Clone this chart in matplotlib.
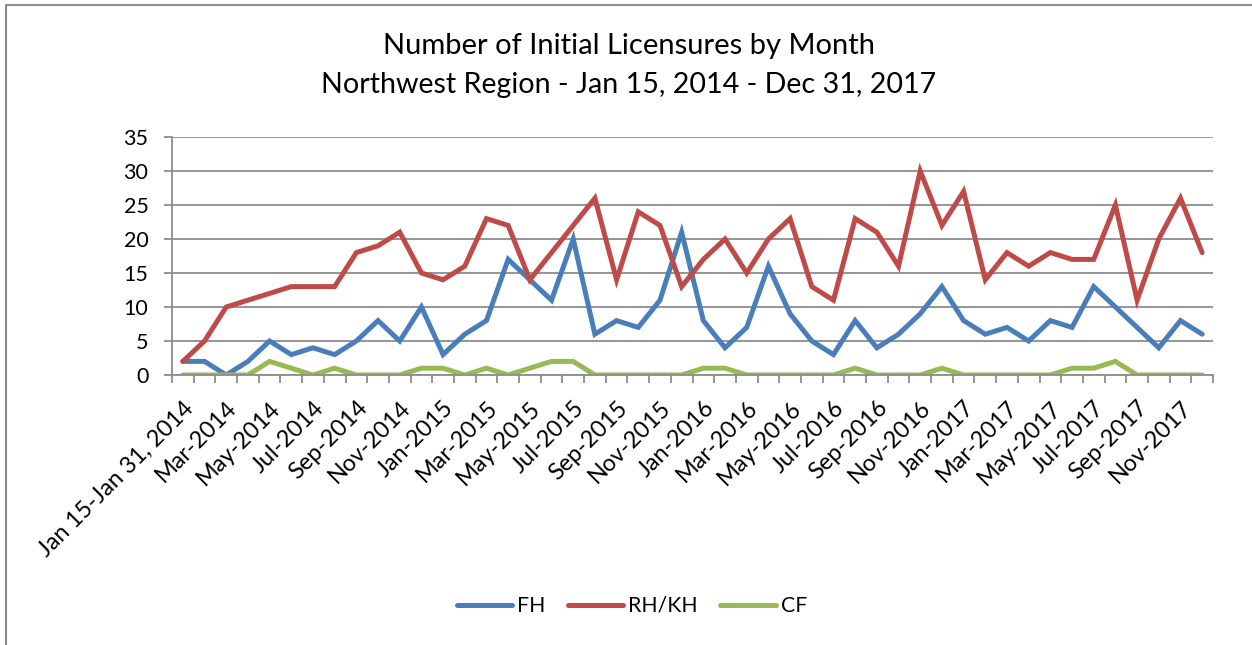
import numpy as np
import matplotlib.pyplot as plt
from matplotlib.lines import Line2D

plt.rcParams['font.family'] = ['Lato', 'DejaVu Sans']

#%% data
months = ['Jan 15-Jan 31, 2014']
for yr in range(2014, 2018):
    for m in ['Jan', 'Feb', 'Mar', 'Apr', 'May', 'Jun', 'Jul', 'Aug', 'Sep', 'Oct', 'Nov', 'Dec']:
        if yr == 2014 and m == 'Jan':
            continue
        months.append('{}-{}'.format(m, yr))

fh = [2, 2, 0, 2, 5, 3, 4, 3, 5, 8, 5, 10,
      3, 6, 8, 17, 14, 11, 20, 6, 8, 7, 11, 21,
      8, 4, 7, 16, 9, 5, 3, 8, 4, 6, 9, 13,
      8, 6, 7, 5, 8, 7, 13, 10, 7, 4, 8, 6]
rhkh = [2, 5, 10, 11, 12, 13, 13, 13, 18, 19, 21, 15,
        14, 16, 23, 22, 14, 18, 22, 26, 14, 24, 22, 13,
        17, 20, 15, 20, 23, 13, 11, 23, 21, 16, 30, 22,
        27, 14, 18, 16, 18, 17, 17, 25, 11, 20, 26, 18]
cf = [0, 0, 0, 0, 2, 1, 0, 1, 0, 0, 0, 1,
      1, 0, 1, 0, 1, 2, 2, 0, 0, 0, 0, 0,
      1, 1, 0, 0, 0, 0, 0, 1, 0, 0, 0, 1,
      0, 0, 0, 0, 0, 1, 1, 2, 0, 0, 0, 0]

#%% plot
fig = plt.figure(figsize=(12.52, 6.45), dpi=100)
ax = fig.add_axes([172/1252, 1-375/645, (1213-172)/1252, (375-137)/645])

x = np.arange(len(months))
ax.plot(x, fh, color='#4A7EBB', lw=3.6, label='FH', solid_capstyle='round', solid_joinstyle='miter')
ax.plot(x, rhkh, color='#BE4B48', lw=3.6, label='RH/KH', solid_capstyle='round', solid_joinstyle='miter')
ax.plot(x, cf, color='#98B954', lw=3.6, label='CF', solid_capstyle='round', solid_joinstyle='miter')

ax.set_xlim(-0.5, len(months)-0.5)
ax.set_ylim(0, 35)
ax.set_yticks(range(0, 36, 5))
ax.yaxis.grid(True, color='#8C8C8C', lw=1.3)
ax.set_axisbelow(True)

# category ticks between months, labels on every other month
ax.set_xticks(np.arange(-0.5, len(months), 1))
ax.set_xticklabels([])
ax.set_xticks(x[::2], minor=True)
ax.set_xticklabels(months[::2], minor=True, rotation=45, ha='right', va='top',
                   rotation_mode='anchor', fontsize=16.8)
ax.tick_params(axis='x', which='minor', length=0, pad=16)
ax.tick_params(axis='x', which='major', length=6, width=1.3, color='#8C8C8C', direction='out')
ax.tick_params(axis='y', length=6, width=1.3, color='#8C8C8C', labelsize=15.5, pad=11)
for s in ['top', 'right']:
    ax.spines[s].set_visible(False)
for s in ['left', 'bottom']:
    ax.spines[s].set_color('#8C8C8C')
    ax.spines[s].set_linewidth(1.3)

fig.text(629/1252, 1-46/645, 'Number of Initial Licensures by Month', ha='center', va='center', fontsize=21)
fig.text(629/1252, 1-85/645, 'Northwest Region - Jan 15, 2014 - Dec 31, 2017', ha='center', va='center', fontsize=20.6)

fig.legend(loc='center', bbox_to_anchor=(632/1252, 1-606/645), ncol=3, frameon=False,
           fontsize=15.3, handlelength=2.6, columnspacing=1.05, handletextpad=0.25)

# chart border: only the left and top edges are in view
fig.lines.append(Line2D([6/1252, 6/1252, 1], [0, 1-5/645, 1-5/645], transform=fig.transFigure,
                        color='#8C8C8C', lw=1.5))

plt.savefig('out.png', dpi=100)
